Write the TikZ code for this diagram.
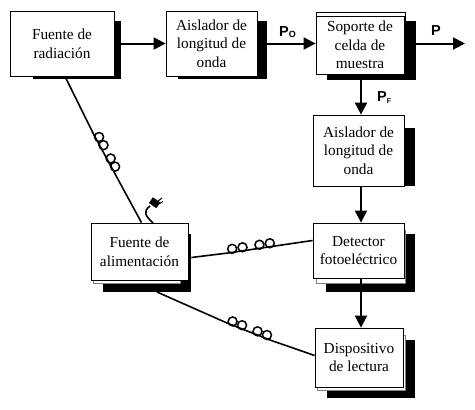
\documentclass[tikz,border=0pt]{standalone}
\usepackage{fontspec}
\setmainfont{Liberation Serif}
\newfontfamily\labelfont{Liberation Sans}
\usetikzlibrary{arrows.meta,calc}
\tikzset{
    unitbox/.style={draw, line width=0.8pt, fill=white, align=center, inner sep=0pt, font=\fontsize{15.3}{18.7}\selectfont},
    flow/.style={line width=2pt, -{Triangle[length=12pt,width=12pt]}},
    wire/.style={line width=1.6pt},
    coilloop/.style={line width=1.5pt},
    plabel/.style={font=\labelfont\bfseries\fontsize{14.5}{14.5}\selectfont, inner sep=0pt}
}
\begin{document}
\begin{tikzpicture}[x=1pt, y=-1pt]
    \useasboundingbox (0,0) rectangle (475,410);

    % Drop shadows
    \foreach \xa/\ya/\xb/\yb in {33/21/121/79, 178/21/267/79, 327/21/416/80, 330/128/415/186,
        326/234/415/292, 327/340/415/398, 103/234/191/292} {
        \fill[black] (\xa,\ya) rectangle (\xb,\yb);
    }

    % Second outlines
    \draw[thin, fill=white] (316,12) rectangle (405,20);
    \draw[thin, gray, fill=white] (316,230) rectangle (405,283);
    \draw[thin, gray, fill=white] (317,335) rectangle (405,390);
    \draw[thin, gray, fill=white] (93,230) rectangle (180,283);

    % Blocks
    \node[unitbox, minimum width=104pt, minimum height=65pt] (fuente) at (62,43.5) {Fuente de\\radiación};
    \node[unitbox, minimum width=91pt, minimum height=65pt] (aislA) at (211.5,43.5) {Aislador de\\longitud de\\onda};
    \node[unitbox, minimum width=88pt, minimum height=58pt] (soporte) at (360,45) {Soporte de\\celda de\\muestra};
    \node[unitbox, minimum width=91pt, minimum height=71pt] (aislB) at (358.5,150.5) {Aislador de\\longitud de\\onda};
    \node[unitbox, minimum width=91pt, minimum height=55pt] (detector) at (358.5,250.5) {Detector\\fotoeléctrico};
    \node[unitbox, minimum width=88pt, minimum height=59pt] (lectura) at (359,357.5) {Dispositivo\\de lectura};
    \node[unitbox, minimum width=97pt, minimum height=57pt] (alim) at (139.5,251.5) {Fuente de\\alimentación};

    % Optical path
    \coordinate (spine) at (361,0);
    \coordinate (salida) at (465,43.5);
    \draw[flow] (fuente.east) ++(1,0) -- (aislA.west);
    \draw[flow] (aislA.east) -- (soporte.west |- aislA.east);
    \draw[flow] (soporte.east) ++(0,-1.5) -- (salida);
    \draw[flow] (spine |- soporte.south) -- (spine |- aislB.north);
    \draw[flow] (spine |- aislB.south) -- (spine |- detector.north);
    \draw[flow] (spine |- detector.south) -- (spine |- lectura.north);

    % Beam labels
    \node[plabel, anchor=base west] (po) at (279,36) {P\raisebox{-1.5pt}{\fontsize{9}{9}\selectfont O}};
    \node[plabel, anchor=base west] (pt) at (431,35) {P};
    \node[plabel, anchor=base west] (pf) at (377,101) {P\raisebox{-2pt}{\fontsize{7}{7}\selectfont F}};

    % Cables with coiled sections
    \coordinate (coilA1) at (94,135);
    \coordinate (coilA2) at (114,172);
    \coordinate (coilB1) at (228,253);
    \coordinate (coilB2) at (275,246);
    \coordinate (coilC1) at (227,323);
    \coordinate (coilC2) at (270,340);
    \coordinate (cableC) at (157,292);

    \draw[wire] ([xshift=3pt]fuente.south) -- (coilA1) -- (coilA2) -- ([xshift=2pt]alim.north);
    \draw[wire] (alim.east) ++(3,6) -- (coilB1) -- (coilB2) -- ([yshift=10pt]detector.west);
    \draw[wire] (cableC) -- (coilC1) -- (coilC2) -- ([yshift=2pt]lectura.west);

    % Coil loops
    \foreach \ca/\cb in {coilA1/coilA2, coilB1/coilB2, coilC1/coilC2} {
        \foreach \t in {0.1,0.32,0.68,0.9} {
            \draw[coilloop] ($($(\ca)!\t!(\cb)$)!3.5pt!90:(\cb)$) circle [radius=4.5];
        }
    }

    % Power plug
    \draw[wire] (153,223) .. controls (146,216) and (142,212) .. (150,206);
    \fill[black, rotate around={-35:(155,203)}] (150,199.5) rectangle (159,206.5);
    \draw[black, line width=1pt] (158,201) -- (162,198);
    \draw[black, line width=1pt] (159,204) -- (163,201.5);
\end{tikzpicture}
\end{document}
